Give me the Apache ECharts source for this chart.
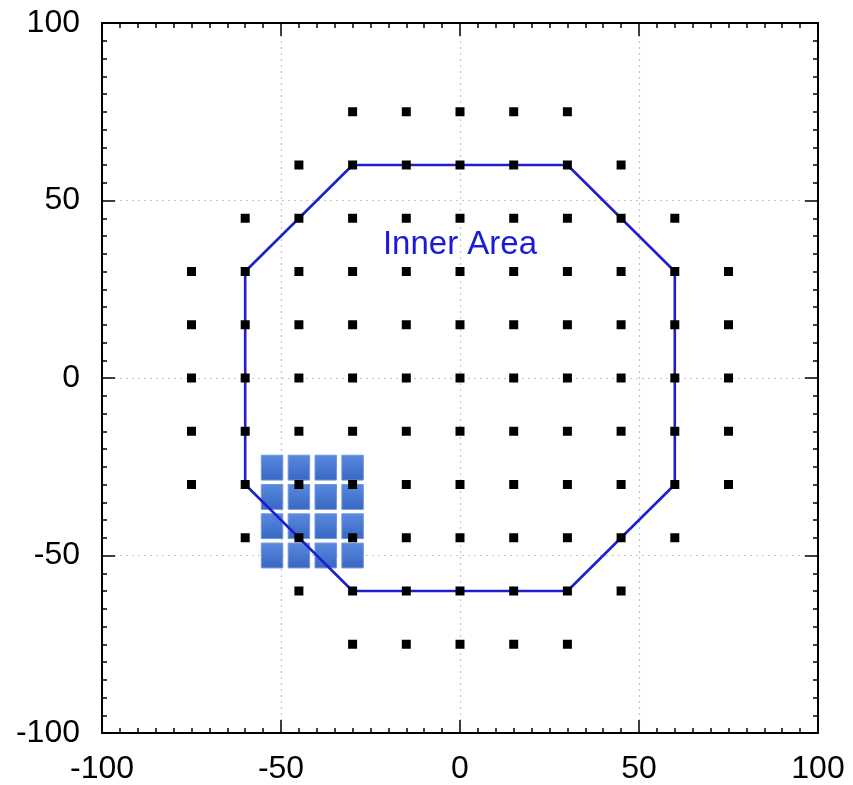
<!DOCTYPE html>
<html>
<head>
<meta charset="utf-8">
<script src="https://cdn.jsdelivr.net/npm/echarts@6/dist/echarts.min.js"></script>
<style>
  html, body { margin: 0; padding: 0; background: #fff; }
  #chart { width: 853px; height: 785px; }
</style>
</head>
<body>
<div id="chart"></div>
<script>
  // grid of sample points, one row per y value
  const rowY = [75, 60, 45, 30, 15, 0, -15, -30, -45, -60, -75]
  const rowX = [
    [-30, -15, 0, 15, 30],
    [-45, -30, -15, 0, 15, 30, 45],
    [-60, -45, -30, -15, 0, 15, 30, 45, 60],
    [-75, -60, -45, -30, -15, 0, 15, 30, 45, 60, 75],
    [-75, -60, -45, -30, -15, 0, 15, 30, 45, 60, 75],
    [-75, -60, -45, -30, -15, 0, 15, 30, 45, 60, 75],
    [-75, -60, -45, -30, -15, 0, 15, 30, 45, 60, 75],
    [-75, -60, -45, -30, -15, 0, 15, 30, 45, 60, 75],
    [-60, -45, -30, -15, 0, 15, 30, 45, 60],
    [-45, -30, -15, 0, 15, 30, 45],
    [-30, -15, 0, 15, 30],
  ]

  // octagon outline (closed)
  const areaX = [-30, 30, 60, 60, 30, -30, -60, -60, -30]
  const areaY = [60, 60, 30, -30, -60, -60, -30, 30, 60]

  // blue tiles: centres and size in data units
  const tileX = [-52.5, -45, -37.5, -30]
  const tileY = [-25.25, -33.5, -41.75, -50]
  const tileW = 6
  const tileH = 7

  const labelPos = [0, 37.5]
  const labelText = 'Inner Area'

  const points = []
  rowY.forEach((y, i) => rowX[i].forEach((x) => points.push([x, y])))
  const outline = areaX.map((x, i) => [x, areaY[i]])
  const tiles = []
  tileY.forEach((y) => tileX.forEach((x) => tiles.push([x, y])))

  const font = 'Liberation Sans, Arial, sans-serif'

  function axis(pos, labels, idx) {
    return {
      type: 'value',
      position: pos,
      min: -100,
      max: 100,
      interval: 50,
      axisLine: { show: true, onZero: false, lineStyle: { color: '#000', width: 2 } },
      axisTick: { show: true, inside: true, length: 13, lineStyle: { color: '#000', width: 1.5 } },
      minorTick: { show: true, splitNumber: 10, length: 5, lineStyle: { color: '#000', width: 1.5 } },
      axisLabel: {
        show: labels,
        color: '#000',
        fontSize: 32,
        fontFamily: font,
        margin: pos === 'left' ? 22 : 20,
        showMinLabel: true,
        showMaxLabel: true,
      },
      splitLine: {
        show: idx === 0,
        lineStyle: { color: '#c4c4c4', type: [2, 4], width: 1.2 },
      },
    }
  }

  const chart = echarts.init(document.getElementById('chart'))
  chart.setOption({
    animation: false,
    grid: { left: 102, right: 35, top: 23, bottom: 47, containLabel: false },
    xAxis: [axis('bottom', true, 0), axis('top', false, 1)],
    yAxis: [axis('left', true, 0), axis('right', false, 1)],
    series: [
      {
        type: 'custom',
        z: 1,
        data: tiles,
        renderItem(params, api) {
          const x = api.value(0)
          const y = api.value(1)
          const p0 = api.coord([x - tileW / 2, y + tileH / 2])
          const p1 = api.coord([x + tileW / 2, y - tileH / 2])
          return {
            type: 'rect',
            shape: { x: p0[0], y: p0[1], width: p1[0] - p0[0], height: p1[1] - p0[1] },
            style: {
              fill: new echarts.graphic.LinearGradient(0, 0, 0, 1, [
                { offset: 0, color: '#5a8ade' },
                { offset: 1, color: '#3866c4' },
              ]),
              stroke: '#6f96dc',
              lineWidth: 1,
            },
          }
        },
      },
      {
        type: 'line',
        z: 2,
        data: outline,
        symbol: 'none',
        lineStyle: { color: '#1f1fcf', width: 2.6 },
      },
      {
        type: 'scatter',
        z: 3,
        data: points,
        symbol: 'rect',
        symbolSize: 9,
        itemStyle: { color: '#000', opacity: 1 },
      },
      {
        type: 'scatter',
        z: 4,
        data: [labelPos],
        symbolSize: 0,
        itemStyle: { opacity: 1 },
        label: {
          show: true,
          position: 'inside',
          formatter: labelText,
          color: '#1a1ad8',
          fontSize: 33,
          fontFamily: font,
        },
      },
    ],
  })
</script>
</body>
</html>
